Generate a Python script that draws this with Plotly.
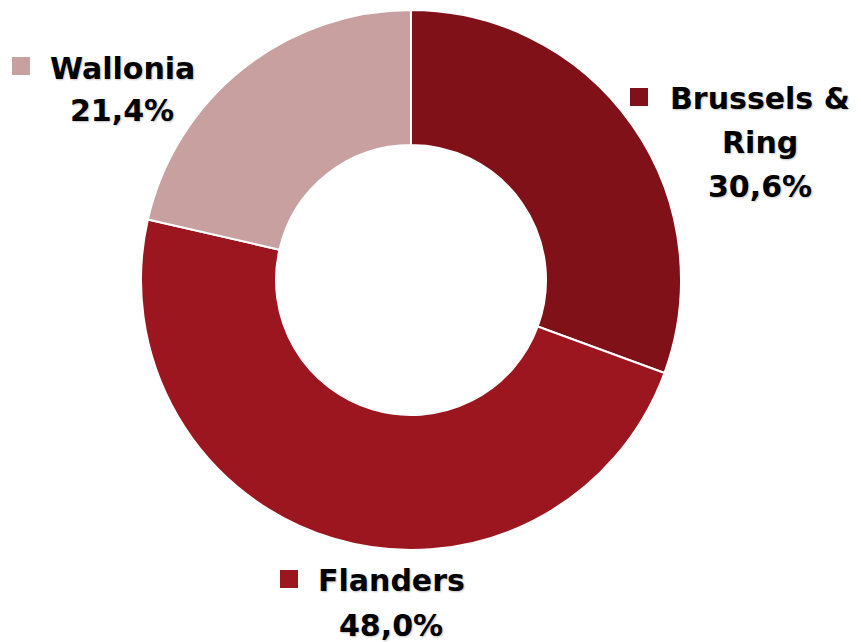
import plotly.graph_objects as go

categories = ["Brussels & Ring", "Flanders", "Wallonia"]
values = [30.6, 48.0, 21.4]
colors = ["#801119", "#9C1620", "#C9A0A0"]
pct_labels = ["30,6%", "48,0%", "21,4%"]

W, H = 861, 642

def px(x):
    return x / W

def py(y):
    return 1 - y / H

fig = go.Figure(go.Pie(
    labels=categories,
    values=values,
    hole=0.5,
    sort=False,
    direction="clockwise",
    rotation=0,
    marker=dict(colors=colors, line=dict(color="white", width=2)),
    textinfo="none",
    hoverinfo="label+percent",
    domain=dict(x=[px(141), px(681)], y=[py(550), py(10)]),
    showlegend=False,
))

font = dict(family="DejaVu Sans", size=30, color="black", weight="bold",
            shadow="1px 1px 2px rgba(0,0,0,0.25)")

label_specs = [
    dict(box=(630, 97), lines=[("Brussels &", 760, 98), ("Ring", 760, 142), (pct_labels[0], 760, 187)]),
    dict(box=(280, 579), lines=[("Flanders", 391, 580), (pct_labels[1], 391, 625)]),
    dict(box=(12, 66), lines=[("Wallonia", 122, 68), (pct_labels[2], 122, 110)]),
]

annotations = []
shapes = []
for spec, col in zip(label_specs, colors):
    bx, by = spec["box"]
    shapes.append(dict(type="rect", xref="paper", yref="paper",
                       x0=px(bx), x1=px(bx + 18), y0=py(by + 9), y1=py(by - 9),
                       fillcolor=col, line=dict(width=0)))
    for text, cx, cy in spec["lines"]:
        annotations.append(dict(text=text, x=px(cx), y=py(cy), xref="paper", yref="paper",
                                xanchor="center", yanchor="middle", showarrow=False, font=font))

fig.update_layout(
    width=W, height=H,
    margin=dict(l=0, r=0, t=0, b=0),
    paper_bgcolor="white",
    plot_bgcolor="white",
    annotations=annotations,
    shapes=shapes,
)

fig.write_html("out.html",
               config={"displayModeBar": False},
               post_script="document.body.style.margin='0';document.body.style.overflow='hidden';")
